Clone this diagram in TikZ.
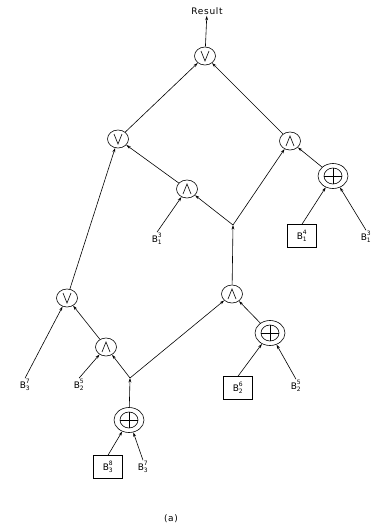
\documentclass[tikz,border=0pt]{standalone}
\usepackage{fontspec}
\setmainfont{DejaVu Sans}[LetterSpace=8]
\setsansfont{DejaVu Sans}[LetterSpace=8]
\usetikzlibrary{shapes.geometric,arrows.meta}
\newcommand\Blab[2]{$\mathsf{B}^{\mathsf{#1}}_{\mathsf{#2}}$}
\begin{document}
\begin{tikzpicture}[x=1pt,y=-1pt,font=\fontsize{9}{10}\selectfont,line width=0.6pt,
  op/.style={ellipse,draw,minimum width=21pt,minimum height=18pt,inner sep=0pt},
  orop/.style={op,path picture={\draw ([shift={(-4pt,5pt)}]path picture bounding box.center) -- ([shift={(0pt,-5pt)}]path picture bounding box.center) -- ([shift={(4pt,5pt)}]path picture bounding box.center);}},
  andop/.style={op,path picture={\draw ([shift={(-4pt,-5pt)}]path picture bounding box.center) -- ([shift={(0pt,5pt)}]path picture bounding box.center) -- ([shift={(4pt,-5pt)}]path picture bounding box.center);}},
  xop/.style={ellipse,draw,minimum width=30pt,minimum height=25pt,inner sep=0pt,
    path picture={\draw (path picture bounding box.center) ellipse [x radius=9pt,y radius=8pt];
      \draw ([xshift=-9pt]path picture bounding box.center) -- ([xshift=9pt]path picture bounding box.center);
      \draw ([yshift=-8pt]path picture bounding box.center) -- ([yshift=8pt]path picture bounding box.center);}},
  bbox/.style={draw,minimum width=29pt,minimum height=23pt,inner sep=0pt},
  lab/.style={inner sep=1pt},
  arr/.style={-{Stealth[length=4.5pt,width=2.8pt]}}]
\useasboundingbox (0,0) rectangle (384,531);
\node[lab] (res) at (207,11) {Result};
\node[orop] (top) at (205,56) {};
\node[orop] (lv) at (118,139) {};
\node[andop] (ma) at (187,189) {};
\node[andop] (ra) at (290,141) {};
\node[xop] (xr) at (333,176) {};
\node[bbox] (b14) at (302,236) {\Blab{4}{1}};
\node[lab] (b13r) at (366,237) {\Blab{3}{1}};
\node[lab] (b13l) at (157,239) {\Blab{3}{1}};
\coordinate (j1) at (233,225);
\node[andop] (rla) at (232,294) {};
\node[xop] (xm) at (270,333) {};
\node[bbox] (b26) at (238,388) {\Blab{6}{2}};
\node[lab] (b25r) at (296,386) {\Blab{5}{2}};
\node[orop] (lowv) at (67,298) {};
\node[andop] (la) at (106,347) {};
\node[lab] (b37l) at (25,385) {\Blab{7}{3}};
\node[lab] (b25l) at (79,385) {\Blab{5}{2}};
\coordinate (j2) at (130,378);
\node[xop] (xb) at (129,420) {};
\node[bbox] (b38) at (108,467) {\Blab{8}{3}};
\node[lab] (b37r) at (143,467) {\Blab{7}{3}};
\node[lab] (cap) at (171,519) {(a)};
\draw[arr] (top) -- (res);
\draw[arr] (lv) -- (top);
\draw[arr] (ra) -- (top);
\draw[arr] (ma) -- (lv);
\draw[arr] (lowv) -- (lv);
\draw[arr] (b13l.north) -- (ma);
\draw[arr] (j1) -- (ma);
\draw[arr] (j1) -- (ra);
\draw[arr] (rla) -- (j1);
\draw[arr] (xr) -- (ra);
\draw[arr] (b14.north) -- (xr);
\draw[arr] (b13r.north) -- (xr);
\draw[arr] (b37l.north) -- (lowv);
\draw[arr] (la) -- (lowv);
\draw[arr] (b25l.north) -- (la);
\draw[arr] (j2) -- (la);
\draw[arr] (j2) -- (rla);
\draw[arr] (xb) -- (j2);
\draw[arr] (b38.north) -- (xb);
\draw[arr] (b37r.north) -- (xb);
\draw[arr] (xm) -- (rla);
\draw[arr] (b26.north) -- (xm);
\draw[arr] (b25r.north) -- (xm);
\end{tikzpicture}
\end{document}
